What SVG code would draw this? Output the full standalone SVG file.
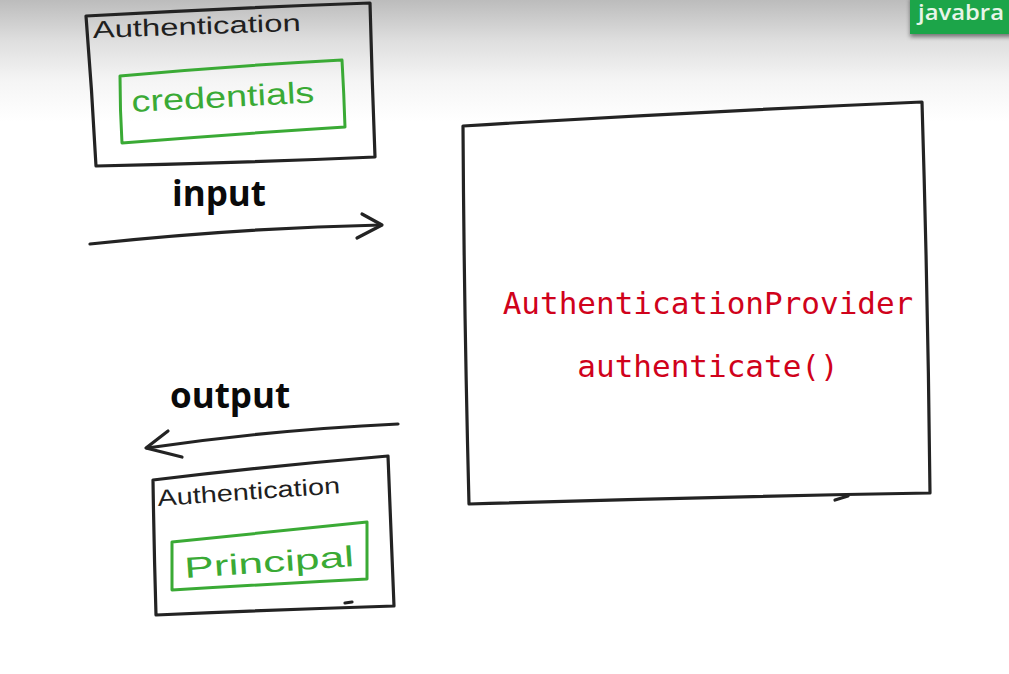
<svg xmlns="http://www.w3.org/2000/svg" width="1009" height="674" viewBox="0 0 1009 674">
  <defs>
    <linearGradient id="bg" x1="0" y1="0" x2="0" y2="1">
      <stop offset="0" stop-color="#bcbcbc"/>
      <stop offset="0.06" stop-color="#dedede"/>
      <stop offset="0.12" stop-color="#f5f5f5"/>
      <stop offset="0.18" stop-color="#ffffff"/>
    </linearGradient>
    <filter id="sh" x="-20%" y="-20%" width="140%" height="160%">
      <feDropShadow dx="0" dy="3" stdDeviation="2" flood-color="#000" flood-opacity="0.45"/>
    </filter>
  </defs>
  <style>
    .ink { fill: none; stroke: #232323; stroke-width: 3.2; stroke-linecap: round; stroke-linejoin: round; }
    .gink { fill: none; stroke: #3aaa35; stroke-width: 3; stroke-linecap: round; stroke-linejoin: round; }
    .hand { font-family: "Liberation Sans", Arial, sans-serif; fill: #1f1f1f; }
    .ghand { font-family: "Liberation Sans", Arial, sans-serif; fill: #3aaa35; }
    .lbl { font-family: "Open Sans", "Noto Sans", sans-serif; font-weight: bold; fill: #0a0a0a; font-size: 35px; }
    .code { font-family: "DejaVu Sans Mono", monospace; fill: #d0021b; font-size: 31px; text-anchor: middle; }
  </style>
  <rect x="0" y="0" width="1009" height="674" fill="url(#bg)"/>

  <g id="badge">
    <rect x="910" y="-4" width="110" height="38" fill="#1aa548" filter="url(#sh)"/>
    <text x="918" y="20" font-family="Open Sans, sans-serif" font-weight="600" font-size="21" fill="#e8f5e8" textLength="86" lengthAdjust="spacingAndGlyphs">javabra</text>
  </g>

  <g id="auth-input">
    <path class="ink" d="M86 16 Q230 8 370 3 Q372 80 375 157 Q240 163 96 166 Q92 90 86 16 Z"/>
    <text class="hand" x="93" y="38" font-size="24" textLength="208" lengthAdjust="spacingAndGlyphs" transform="rotate(-2 93 38)">Authentication</text>
    <path class="gink" d="M120 76 Q230 66 342 60 Q344 95 345 127 Q235 134 122 143 Q120 110 120 76 Z"/>
    <text class="ghand" x="132" y="112" font-size="30" textLength="183" lengthAdjust="spacingAndGlyphs" transform="rotate(-3 132 112)">credentials</text>
  </g>

  <g id="provider">
    <path d="M463 126 Q690 112 922 102 Q928 300 930 493 Q700 497 469 504 Q464 310 463 126 Z" fill="#ffffff" stroke="#232323" stroke-width="3.2" stroke-linejoin="round"/>
    <path class="ink" d="M835 500 L848 496"/>
    <text class="code" x="708" y="314">AuthenticationProvider</text>
    <text class="code" x="708" y="377">authenticate()</text>
  </g>

  <g id="auth-output">
    <path class="ink" d="M153 480 Q270 466 388 456 Q391 530 394 606 Q270 610 156 615 Q154 548 153 480 Z"/>
    <path class="ink" d="M345 603 L352 602"/>
    <text class="hand" x="158" y="506" font-size="23" textLength="183" lengthAdjust="spacingAndGlyphs" transform="rotate(-4 158 506)">Authentication</text>
    <path class="gink" d="M172 542 Q270 532 367 522 Q367 551 367 579 Q270 584 172 590 Q172 566 172 542 Z"/>
    <text class="ghand" x="185" y="578" font-size="29" textLength="170" lengthAdjust="spacingAndGlyphs" transform="rotate(-4 185 578)">Principal</text>
  </g>

  <g id="connectors">
    <path class="ink" d="M90 244 Q240 228 381 225"/>
    <path class="ink" d="M362 214 L382 225 L357 238"/>
    <path class="ink" d="M398 424 Q270 430 147 448"/>
    <path class="ink" d="M168 431 L146 448 L182 457"/>
    <text class="lbl" x="172" y="206">input</text>
    <text class="lbl" x="170" y="408">output</text>
  </g>
</svg>
